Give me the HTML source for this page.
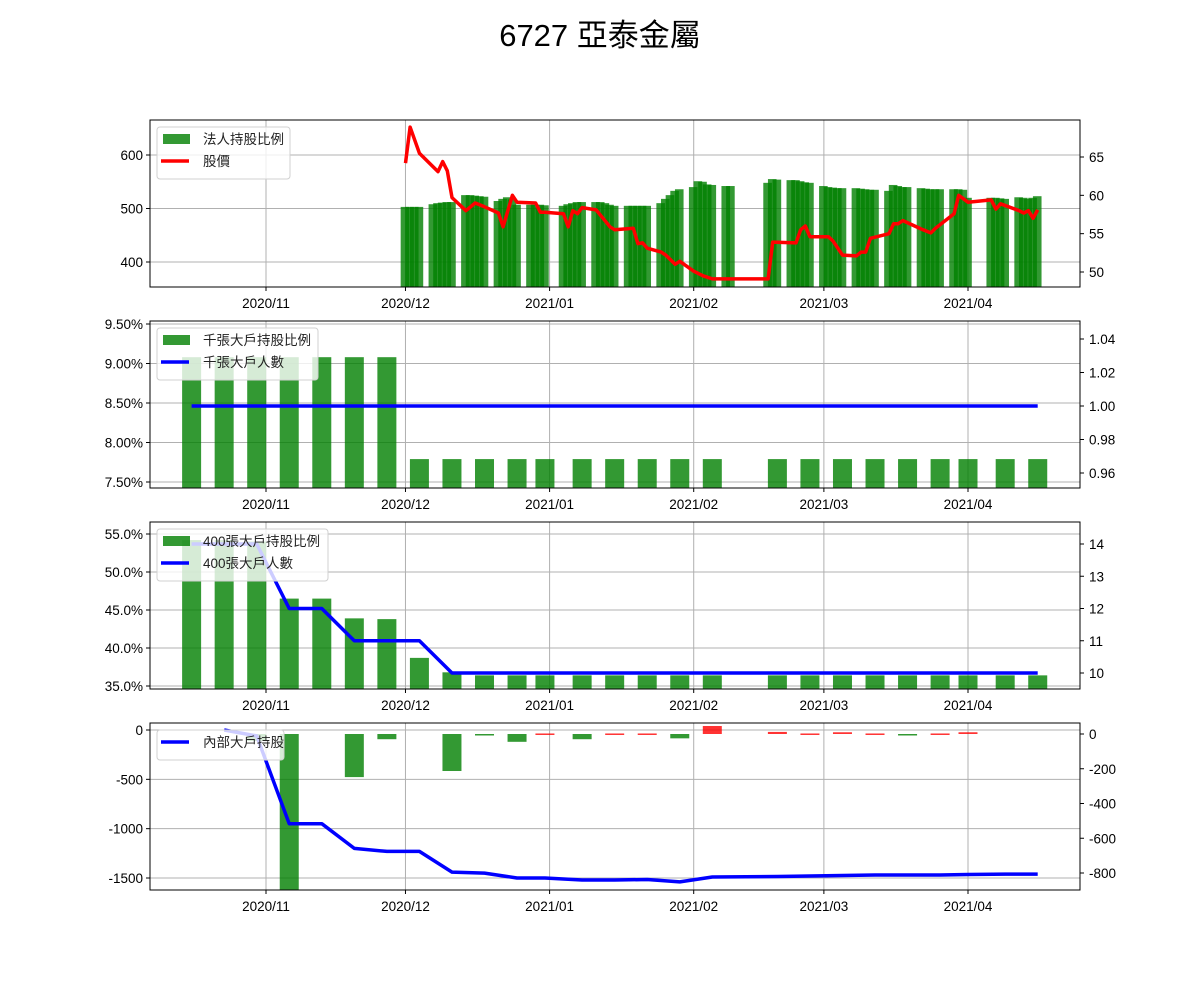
<!DOCTYPE html>
<html><head><meta charset="utf-8">
<style>
html,body{margin:0;padding:0;background:#fff;}
svg{display:block;font-family:"Liberation Sans","Noto Sans CJK TC",sans-serif;}
</style></head>
<body>
<svg id="chart" width="1200" height="1000" xmlns="http://www.w3.org/2000/svg">
<rect width="1200" height="1000" fill="#fff"/>
<text x="600" y="46" text-anchor="middle" font-size="31" fill="#000">6727 亞泰金屬</text>
</svg>
<script>
// ---------- data ----------
const xTickLabels = ["2020/11","2020/12","2021/01","2021/02","2021/03","2021/04"];
const xTickDates = ["2020-11-01","2020-12-01","2021-01-01","2021-02-01","2021-03-01","2021-04-01"];

const instDates = ["2020-12-01","2020-12-02","2020-12-03","2020-12-04","2020-12-07","2020-12-08","2020-12-09","2020-12-10","2020-12-11","2020-12-14","2020-12-15","2020-12-16","2020-12-17","2020-12-18","2020-12-21","2020-12-22","2020-12-23","2020-12-24","2020-12-25","2020-12-28","2020-12-29","2020-12-30","2020-12-31","2021-01-04","2021-01-05","2021-01-06","2021-01-07","2021-01-08","2021-01-11","2021-01-12","2021-01-13","2021-01-14","2021-01-15","2021-01-18","2021-01-19","2021-01-20","2021-01-21","2021-01-22","2021-01-25","2021-01-26","2021-01-27","2021-01-28","2021-01-29","2021-02-01","2021-02-02","2021-02-03","2021-02-04","2021-02-05","2021-02-08","2021-02-09","2021-02-17","2021-02-18","2021-02-19","2021-02-22","2021-02-23","2021-02-24","2021-02-25","2021-02-26","2021-03-01","2021-03-02","2021-03-03","2021-03-04","2021-03-05","2021-03-08","2021-03-09","2021-03-10","2021-03-11","2021-03-12","2021-03-15","2021-03-16","2021-03-17","2021-03-18","2021-03-19","2021-03-22","2021-03-23","2021-03-24","2021-03-25","2021-03-26","2021-03-29","2021-03-30","2021-03-31","2021-04-01","2021-04-06","2021-04-07","2021-04-08","2021-04-09","2021-04-12","2021-04-13","2021-04-14","2021-04-15","2021-04-16"];
const instValues = [503,503,503,503,508,510,511,512,512,525,525,524,523,522,514,518,521,517,507,507,507,507,506,505,508,510,512,512,512,512,510,507,505,505,505,505,505,505,510,518,525,533,536,540,551,550,545,544,542,542,548,555,554,553,553,551,549,548,542,540,539,538,538,538,537,536,535,535,533,544,542,540,540,538,537,536,536,536,536,536,535,520,520,520,519,518,521,520,518,520,523];

const priceDates = ["2020-12-01","2020-12-02","2020-12-04","2020-12-08","2020-12-09","2020-12-10","2020-12-11","2020-12-14","2020-12-16","2020-12-18","2020-12-21","2020-12-22","2020-12-24","2020-12-25","2020-12-29","2020-12-30","2020-12-31","2021-01-04","2021-01-05","2021-01-06","2021-01-07","2021-01-08","2021-01-11","2021-01-14","2021-01-15","2021-01-19","2021-01-20","2021-01-21","2021-01-22","2021-01-25","2021-01-26","2021-01-28","2021-01-29","2021-02-01","2021-02-03","2021-02-05","2021-02-17","2021-02-18","2021-02-23","2021-02-24","2021-02-25","2021-02-26","2021-03-02","2021-03-03","2021-03-05","2021-03-08","2021-03-09","2021-03-10","2021-03-11","2021-03-15","2021-03-16","2021-03-17","2021-03-18","2021-03-22","2021-03-24","2021-03-25","2021-03-29","2021-03-30","2021-04-01","2021-04-06","2021-04-07","2021-04-08","2021-04-12","2021-04-13","2021-04-14","2021-04-15","2021-04-16"];
const priceValues = [64.2,68.9,65.5,63.1,64.4,63.2,59.7,58.0,59.0,58.5,57.7,55.9,60.0,59.1,59.0,57.8,57.8,57.6,55.9,58.0,57.6,58.4,58.1,55.9,55.5,55.7,53.7,53.8,53.1,52.6,52.2,51.0,51.4,50.1,49.5,49.1,49.1,53.9,53.8,55.5,56.0,54.6,54.6,54.0,52.2,52.1,52.6,52.6,54.4,55.0,56.3,56.3,56.7,55.6,55.1,55.7,57.6,60.0,59.1,59.4,58.2,58.9,58.0,57.7,58.0,57.0,58.1];

const weekDates = ["2020-10-16","2020-10-23","2020-10-30","2020-11-06","2020-11-13","2020-11-20","2020-11-27","2020-12-04","2020-12-11","2020-12-18","2020-12-25","2020-12-31","2021-01-08","2021-01-15","2021-01-22","2021-01-29","2021-02-05","2021-02-19","2021-02-26","2021-03-05","2021-03-12","2021-03-19","2021-03-26","2021-04-01","2021-04-09","2021-04-16"];
const bigPct = [9.08,9.08,9.08,9.08,9.08,9.08,9.08,7.79,7.79,7.79,7.79,7.79,7.79,7.79,7.79,7.79,7.79,7.79,7.79,7.79,7.79,7.79,7.79,7.79,7.79,7.79];
const bigCount = [1,1,1,1,1,1,1,1,1,1,1,1,1,1,1,1,1,1,1,1,1,1,1,1,1,1];
const p400Pct = [54.2,54.2,54.0,46.5,46.5,43.9,43.8,38.7,36.8,36.4,36.4,36.4,36.4,36.4,36.4,36.4,36.4,36.4,36.4,36.4,36.4,36.4,36.4,36.4,36.4,36.4];
const p400Count = [14,14,14,12,12,11,11,11,10,10,10,10,10,10,10,10,10,10,10,10,10,10,10,10,10,10];
const insiderDates = ["2020-10-23","2020-10-30","2020-11-06","2020-11-13","2020-11-20","2020-11-27","2020-12-04","2020-12-11","2020-12-18","2020-12-25","2020-12-31","2021-01-08","2021-01-15","2021-01-22","2021-01-29","2021-02-05","2021-02-19","2021-02-26","2021-03-05","2021-03-12","2021-03-19","2021-03-26","2021-04-01","2021-04-09","2021-04-16"];
const insiderHold = [0,-60,-950,-950,-1200,-1230,-1230,-1440,-1450,-1500,-1500,-1520,-1520,-1515,-1540,-1490,-1485,-1480,-1475,-1470,-1470,-1470,-1465,-1460,-1460];
const insiderChange = [0,-40,-1000,0,-248,-30,0,-213,-5,-45,3,-30,3,3,-25,46,12,3,10,3,-5,3,10,0,0];

// ---------- helpers ----------
const svg = document.getElementById('chart');
const NS = 'http://www.w3.org/2000/svg';
const L = 150, R = 1080, H = 167;
function mk(tag, attrs, parent){ const e=document.createElementNS(NS,tag); for(const k in attrs) e.setAttribute(k,attrs[k]); (parent||svg).appendChild(e); return e; }
const base = Date.UTC(2020,10,1);
function dayOf(s){ const p=s.split('-'); return (Date.UTC(+p[0],+p[1]-1,+p[2])-base)/86400000; }
function xOf(s){ return 266 + dayOf(s)*4.649; }
function lin(d0,d1,r0,r1){ return v => r0 + (v-d0)*(r1-r0)/(d1-d0); }
const GREEN='rgba(0,128,0,0.8)', RED='rgba(255,0,0,0.8)';

function panel(name, top, leftTicks, leftFmt, yL, rightTicks, rightFmt, yR){
  const g = mk('g',{});
  
  
  const clipId = name+'-clip';
  const cp = mk('clipPath',{id:clipId}, g); mk('rect',{x:L,y:top,width:R-L,height:H},cp);
  xTickDates.forEach((d,i)=>{
    const x=xOf(d);
    const gl = mk('line',{x1:x,x2:x,y1:top,y2:top+H,stroke:'#b0b0b0','stroke-width':1},g);
    
    
    mk('line',{x1:x,x2:x,y1:top+H,y2:top+H+4,stroke:'#000'},g);
    const t = mk('text',{x:x,y:top+H+21,'text-anchor':'middle','font-size':13.5,fill:'#000'},g);
    t.textContent = xTickLabels[i];
    
    
  });
  leftTicks.forEach(v=>{
    const y=yL(v);
    mk('line',{x1:L,x2:R,y1:y,y2:y,stroke:'#b0b0b0','stroke-width':1},g);
    mk('line',{x1:L-4,x2:L,y1:y,y2:y,stroke:'#000'},g);
    const t = mk('text',{x:L-7,y:y+5,'text-anchor':'end','font-size':13.5,fill:'#000'},g);
    t.textContent = leftFmt(v);
    
    
  });
  rightTicks.forEach(v=>{
    const y=yR(v);
    mk('line',{x1:R,x2:R+4,y1:y,y2:y,stroke:'#000'},g);
    const t = mk('text',{x:R+9,y:y+5,'font-size':13.5,fill:'#000'},g);
    t.textContent = rightFmt(v);
    
    
  });
  const plot = mk('g',{'clip-path':'url(#'+clipId+')'},g);
  return {g, plot, top};
}
function frame(p){ mk('rect',{x:L,y:p.top,width:R-L,height:H,fill:'none',stroke:'#000','stroke-width':1},p.g); }
function polyline(parent, xs, ys, color){
  const pts = xs.map((x,i)=>x.toFixed(1)+','+ys[i].toFixed(1)).join(' ');
  return mk('polyline',{points:pts,fill:'none',stroke:color,'stroke-width':3.5,'stroke-linejoin':'round'},parent);
}
function legend(p, w, items){
  const t=p.top, hgt = items.length*22+8;
  const lg = mk('g',{},p.g);
  
  
  mk('rect',{x:157,y:t+7,width:w,height:hgt,rx:3,fill:'rgba(255,255,255,0.8)',stroke:'#d0d0d0'},lg);
  items.forEach((it,i)=>{
    const cy = t+19+i*22;
    if(it.type==='bar') mk('rect',{x:163,y:cy-5,width:27,height:10,fill:GREEN},lg);
    else mk('line',{x1:161,x2:189,y1:cy,y2:cy,stroke:it.color,'stroke-width':3.5},lg);
    const tx = mk('text',{x:203,y:cy+5,'font-size':13.5,fill:'#222'},lg);
    tx.textContent = it.label;
    
    
  });
}

// ---------- panel 1 ----------
{
  const top=120;
  const yL = lin(400,600,262,155), yR = lin(50,65,272,157);
  const p = panel('institutional-panel', top, [400,500,600], v=>String(v), yL, [50,55,60,65], v=>String(v), yR);
  instDates.forEach((d,i)=>{
    const x=xOf(d), y=yL(instValues[i]);
    const b = mk('rect',{x:x-4.8,y:y,width:8.6,height:Math.max(0,top+H-y+5),fill:GREEN},p.plot);
    
    
  });
  const ln = polyline(p.plot, priceDates.map(xOf), priceValues.map(yR), '#ff0000');
  
  
  frame(p);
  legend(p, 133, [{type:'bar',label:'法人持股比例'},{type:'line',color:'#ff0000',label:'股價'}]);
}
// ---------- panel 2 ----------
{
  const top=321;
  const yL = lin(8.5,9.5,403,324), yR = lin(0.96,1.04,473,339);
  const p = panel('thousand-lot-panel', top, [7.5,8.0,8.5,9.0,9.5], v=>v.toFixed(2)+'%', yL, [0.96,0.98,1.00,1.02,1.04], v=>v.toFixed(2), yR);
  weekDates.forEach((d,i)=>{
    const x=xOf(d), y=yL(bigPct[i]);
    const b = mk('rect',{x:x-9.5,y:y,width:19,height:top+H-y+5,fill:GREEN},p.plot);
    
    
  });
  const ln = polyline(p.plot, weekDates.map(xOf), bigCount.map(yR), '#0000ff');
  
  
  frame(p);
  legend(p, 161, [{type:'bar',label:'千張大戶持股比例'},{type:'line',color:'#0000ff',label:'千張大戶人數'}]);
}
// ---------- panel 3 ----------
{
  const top=522;
  const yL = lin(35,55,686,534), yR = lin(10,14,673,544);
  const p = panel('400-lot-panel', top, [35,40,45,50,55], v=>v.toFixed(1)+'%', yL, [10,11,12,13,14], v=>String(v), yR);
  weekDates.forEach((d,i)=>{
    const x=xOf(d), y=yL(p400Pct[i]);
    const b = mk('rect',{x:x-9.5,y:y,width:19,height:top+H-y+5,fill:GREEN},p.plot);
    
    
  });
  const ln = polyline(p.plot, weekDates.map(xOf), p400Count.map(yR), '#0000ff');
  
  
  frame(p);
  legend(p, 171, [{type:'bar',label:'400張大戶持股比例'},{type:'line',color:'#0000ff',label:'400張大戶人數'}]);
}
// ---------- panel 4 ----------
{
  const top=723;
  const yL = lin(0,-1500,730,878), yR = lin(0,-800,734,873);
  const p = panel('insider-panel', top, [-1500,-1000,-500,0], v=>String(v), yL, [-800,-600,-400,-200,0], v=>String(v), yR);
  insiderDates.forEach((d,i)=>{
    const v=insiderChange[i]; if(v===0) return;
    const x=xOf(d), y0=yR(0), y1=yR(v);
    const b = mk('rect',{x:x-9.5,y:Math.min(y0,y1),width:19,height:Math.max(1.5,Math.abs(y1-y0)),fill:v>0?RED:GREEN},p.plot);
    
    
  });
  const ln = polyline(p.plot, insiderDates.map(xOf), insiderHold.map(yL), '#0000ff');
  
  
  frame(p);
  legend(p, 127, [{type:'line',color:'#0000ff',label:'內部大戶持股'}]);
}
</script>
</body></html>
